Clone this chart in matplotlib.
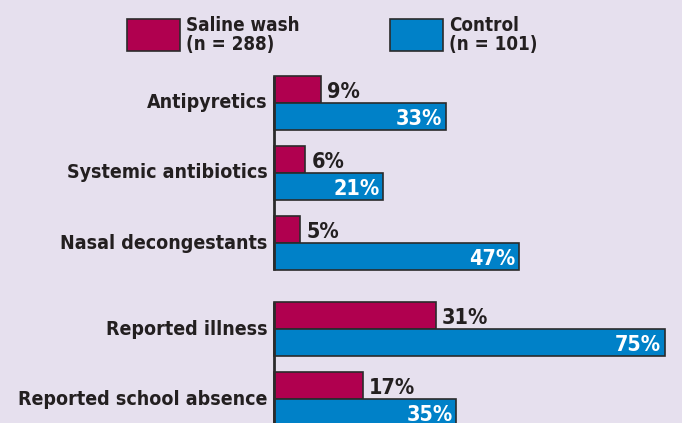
import matplotlib
matplotlib.use("Agg")
import matplotlib.pyplot as plt
from matplotlib.patches import Rectangle

categories = ["Antipyretics", "Systemic antibiotics", "Nasal decongestants",
              "Reported illness", "Reported school absence"]
saline = [9, 6, 5, 31, 17]
control = [33, 21, 47, 75, 35]
series_names = ["Saline wash\n(n = 288)", "Control\n(n = 101)"]

bg = "#E6E0EE"
c_saline = "#B0004F"
c_control = "#0081C8"
edge = "#2B2B2B"
txt = "#231F20"
plt.rcParams["font.family"] = ["DejaVu Sans"]
plt.rcParams["font.stretch"] = "condensed"

W, H = 682, 423
fig = plt.figure(figsize=(W / 100, H / 100), dpi=100)
fig.patch.set_facecolor(bg)
ax = fig.add_axes([0, 0, 1, 1])
ax.set_facecolor(bg)

# x scale: 0% at 274px, 5.213 px per percent; y: one slot = 70px, first boundary at 103px
x0, px_per = 274, 5.213
ax.set_xlim(-x0 / px_per, (W - x0) / px_per)
slot, y0 = 70, 103
ax.set_ylim((H - y0) / slot, -y0 / slot)
ax.axis("off")

# second group sits a bit lower
pos = [i if i < 3 else i + 0.23 for i in range(len(categories))]
h = 0.385

ax.barh([p - h / 2 for p in pos], saline, height=h, color=c_saline,
        edgecolor=edge, linewidth=1.2)
ax.barh([p + h / 2 for p in pos], control, height=h, color=c_control,
        edgecolor=edge, linewidth=1.2)

# axis line segments per group
ax.vlines(0, pos[0] - h, pos[2] + h, color=edge, linewidth=2)
ax.vlines(0, pos[3] - h, pos[4] + 1, color=edge, linewidth=2)

for p, name, s, c in zip(pos, categories, saline, control):
    ax.text(-1.2, p, name, ha="right", va="center", fontsize=14,
            fontweight="bold", color=txt)
    ax.text(s + 1.2, p - h / 2 + 0.03, f"{s}%", ha="left", va="center",
            fontsize=15.5, fontweight="bold", color=txt)
    ax.text(c - 0.7, p + h / 2 + 0.03, f"{c}%", ha="right", va="center",
            fontsize=15.5, fontweight="bold", color="white")

# legend
for (lx, col), name in zip([(127, c_saline), (390, c_control)], series_names):
    fig.patches.append(Rectangle((lx / W, (H - 51) / H), 53 / W, 32 / H,
                                 transform=fig.transFigure, facecolor=col,
                                 edgecolor=edge, linewidth=1.2))
    fig.text((lx + 59) / W, (H - 35) / H, name, ha="left", va="center",
             fontsize=13.5, fontweight="bold", color=txt, linespacing=0.95)

fig.savefig("out.png", dpi=100, facecolor=bg)
